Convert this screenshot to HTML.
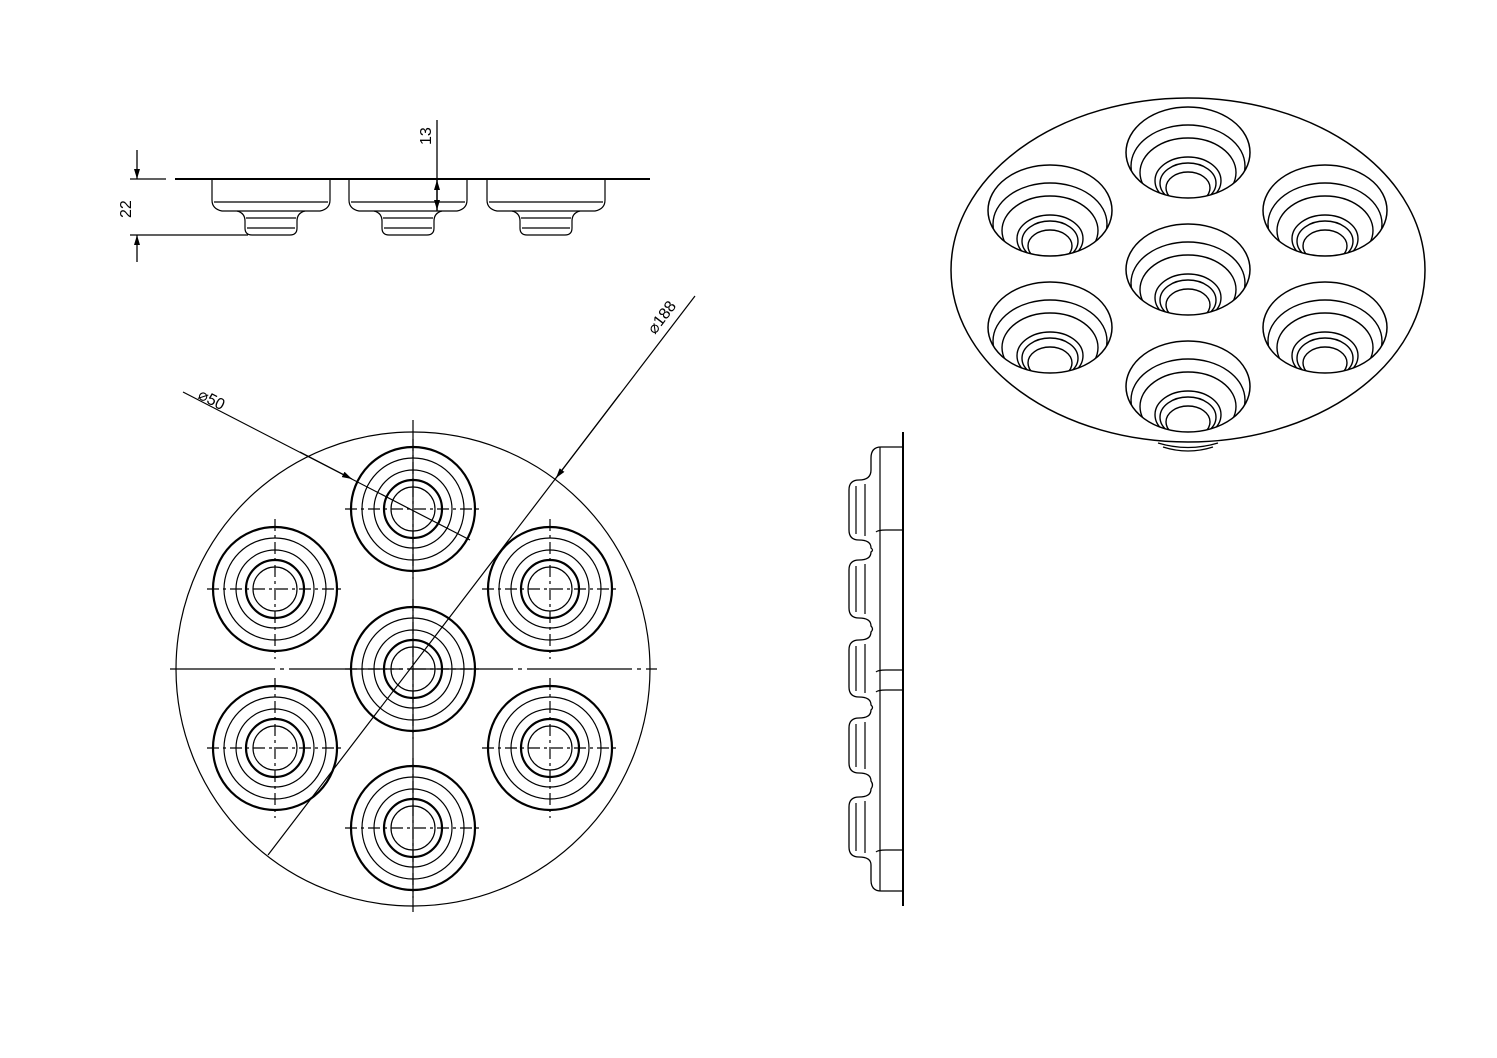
<!DOCTYPE html>
<html><head><meta charset="utf-8"><style>
html,body{margin:0;padding:0;background:#fff;}
svg{display:block;}
text{font-family:"Liberation Sans",sans-serif;font-size:16px;fill:#000;stroke:none;}
</style></head><body>
<svg id="s" width="1497" height="1058" viewBox="0 0 1497 1058" xmlns="http://www.w3.org/2000/svg" fill="none" stroke="#000" stroke-width="1.2">
<defs>
<marker id="ar" markerWidth="10" markerHeight="6" refX="10" refY="3" orient="auto" markerUnits="userSpaceOnUse"><path d="M0,0 L10,3 L0,6 z" fill="#000" stroke="none"/></marker>
</defs>
<g stroke-width="1.3">
<line x1="175" y1="179" x2="650" y2="179" stroke-width="2"/>
<line x1="130" y1="179" x2="166" y2="179"/>
<line x1="130" y1="235" x2="248" y2="235"/>
<line x1="137" y1="150" x2="137" y2="179" marker-end="url(#ar)"/>
<line x1="137" y1="262" x2="137" y2="235" marker-end="url(#ar)"/>
<line x1="437" y1="120" x2="437" y2="211"/>
<line x1="437" y1="195" x2="437" y2="180" marker-end="url(#ar)"/>
<line x1="437" y1="195" x2="437" y2="210" marker-end="url(#ar)"/>
</g>
<text transform="translate(131,218) rotate(-90)">22</text>
<text transform="translate(431,145) rotate(-90)">13</text>
<g id="sidecups"></g>
<circle cx="413" cy="669" r="237"/>
<line x1="170" y1="669" x2="657" y2="669" stroke-dasharray="105,5,4,5"/>
<line x1="413" y1="420" x2="413" y2="912"/>
<g id="plan"></g>
<line x1="268" y1="855" x2="695" y2="296"/>
<line x1="620" y1="394" x2="556" y2="478" marker-end="url(#ar)"/>
<text transform="translate(655,335) rotate(-53)">⌀188</text>
<line x1="183" y1="392" x2="470" y2="540"/>
<line x1="300" y1="452" x2="352" y2="479" marker-end="url(#ar)"/>
<text transform="translate(197,398) rotate(27)">⌀50</text>
<line x1="903" y1="432" x2="903" y2="906" stroke-width="2"/>
<g id="rside"></g>
<ellipse cx="1188" cy="270" rx="237" ry="172" stroke-width="1.5"/>
<path d="M1158,443 Q1188,452 1218,443" />
<path d="M1163,447 Q1188,455 1213,447" />
<g id="iso"></g>
</svg>
<script>
const NS="http://www.w3.org/2000/svg";
function el(p,t,a){const e=document.createElementNS(NS,t);for(const k in a)e.setAttribute(k,a[k]);document.getElementById(p).appendChild(e);return e;}
const P=[[413,509],[275,589],[550,589],[413,669],[275,748],[550,748],[413,828]];
P.forEach(([x,y])=>{
 [[62,2.2],[51,1.2],[39,1.2],[29,2.2],[22,1.2]].forEach(([r,w])=>el("plan","circle",{cx:x,cy:y,r:r,"stroke-width":w}));
 el("plan","line",{x1:x,y1:y-70,x2:x,y2:y+70,"stroke-dasharray":"12,4,3,4"});
 el("plan","line",{x1:x-68,y1:y,x2:x+68,y2:y,"stroke-dasharray":"12,4,3,4"});
});
[212,349,487].forEach(x=>{
 el("sidecups","path",{d:`M${x},179 V200 Q${x},209 ${x+10},211 H${x+108} Q${x+118},209 ${x+118},200 V179`});
 el("sidecups","line",{x1:x+2,y1:202,x2:x+116,y2:202});
 el("sidecups","path",{d:`M${x+25},211 Q${x+33},213 ${x+33},221 V228 Q${x+33},235 ${x+40},235 H${x+78} Q${x+85},235 ${x+85},228 V221 Q${x+85},213 ${x+93},211`});
 el("sidecups","line",{x1:x+34,y1:218,x2:x+84,y2:218});
 el("sidecups","line",{x1:x+35,y1:228,x2:x+83,y2:228});
});
const B=[[480,540],[560,618],[640,697],[718,773],[797,857]];
let d="M903,447 H881 Q871,447 871,458 V470";
B.forEach(([a,b],i)=>{
 d+=` Q871,${a} 859,${a} Q849,${a} 849,${a+10} V${b-10} Q849,${b} 859,${b} Q871,${b} 871,${b+8}`;
 if(i<4){const n=B[i+1][0];d+=` Q874,${(b+n)/2} 871,${n-8}`;}
});
d+=" V880 Q871,891 881,891 H903";
el("rside","path",{d:d,"stroke-width":1.3});
[530,670,690,850].forEach(y=>el("rside","path",{d:`M876,${y+2} Q878,${y} 886,${y} H903`}));
el("rside","line",{x1:880,y1:447,x2:880,y2:891});
B.forEach(([a,b])=>{el("rside","line",{x1:856,y1:a+6,x2:856,y2:b-6});el("rside","line",{x1:865,y1:a+4,x2:865,y2:b-4});});
const I=[[1188,107],[1050,165],[1325,165],[1188,224],[1050,282],[1325,282],[1188,341]];
I.forEach(([x,t],k)=>{
 const cid="c"+k;
 const cp=el("iso","clipPath",{id:cid});
 const ry0=45.5;
 const ce=document.createElementNS(NS,"ellipse");ce.setAttribute("cx",x);ce.setAttribute("cy",t+ry0);ce.setAttribute("rx",62);ce.setAttribute("ry",ry0);cp.appendChild(ce);
 el("iso","ellipse",{cx:x,cy:t+ry0,rx:62,ry:ry0,"stroke-width":1.5});
 [[18,57],[31,48],[50,33],[56,28],[65,22]].forEach(([o,rx])=>{
  const ry=rx*0.72;
  el("iso","ellipse",{cx:x,cy:t+o+ry,rx:rx,ry:ry,"clip-path":`url(#${cid})`,"stroke-width":1.4});
 });
});
</script>
</body></html>
